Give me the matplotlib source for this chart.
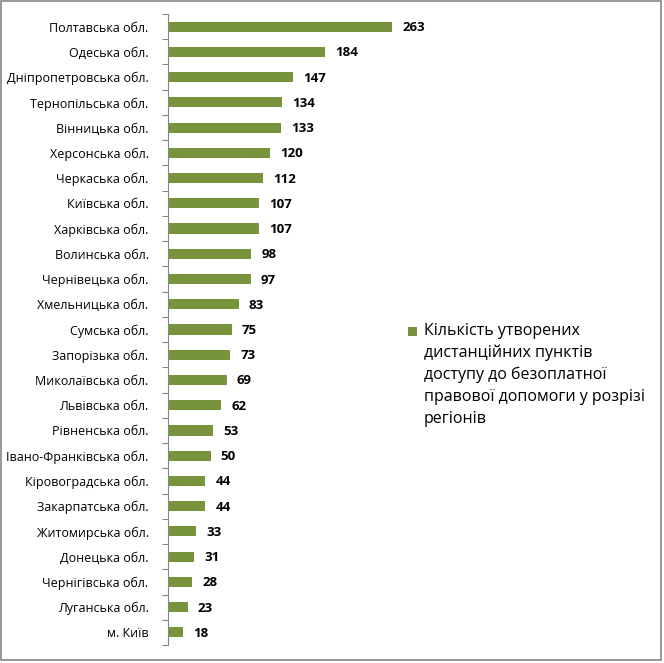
import matplotlib
matplotlib.use("Agg")
import matplotlib.pyplot as plt
from matplotlib.patches import Rectangle

plt.rcParams['font.family'] = ['Open Sans', 'DejaVu Sans']

regions = ["Полтавська обл.", "Одеська обл.", "Дніпропетровська обл.", "Тернопільська обл.",
           "Вінницька обл.", "Херсонська обл.", "Черкаська обл.", "Київська обл.",
           "Харківська обл.", "Волинська обл.", "Чернівецька обл.", "Хмельницька обл.",
           "Сумська обл.", "Запорізька обл.", "Миколаївська обл.", "Львівська обл.",
           "Рівненська обл.", "Івано-Франківська обл.", "Кіровоградська обл.", "Закарпатська обл.",
           "Житомирська обл.", "Донецька обл.", "Чернігівська обл.", "Луганська обл.", "м. Київ"]
values = [263, 184, 147, 134, 133, 120, 112, 107, 107, 98, 97, 83, 75, 73, 69, 62, 53, 50,
          44, 44, 33, 31, 28, 23, 18]
legend_label = ["Кількість утворених", "дистанційних пунктів", "доступу до безоплатної",
                "правової допомоги у розрізі", "регіонів"]

color = "#77933C"
W, H = 664, 663
fig = plt.figure(figsize=(W / 100, H / 100), dpi=100)

left, top, bottom = 168, 14, 645
right = 168 + 300 * 224 / 263
ax = fig.add_axes([left / W, 1 - bottom / H, (right - left) / W, (bottom - top) / H])

n = len(values)
ypos = list(range(n))
ax.barh(ypos, values, height=0.4, color=color)
ax.set_ylim(n - 0.5, -0.5)
ax.set_xlim(0, 300)
for y, v in zip(ypos, values):
    ax.text(v + 12, y + 0.04, str(v), va='center', ha='left', fontsize=9.5, fontweight='bold',
            color='black')

ax.set_yticks(ypos)
ax.set_yticklabels(regions, fontsize=9)
ax.tick_params(axis='y', which='major', length=0, pad=14)
ax.set_yticks([i - 0.5 for i in range(n + 1)], minor=True)
ax.tick_params(axis='y', which='minor', length=4, color='#868686', width=0.8)
ax.set_xticks([])
for s in ['top', 'right', 'bottom']:
    ax.spines[s].set_visible(False)
ax.spines['left'].set_color('#868686')
ax.spines['left'].set_linewidth(0.8)

# legend
fig.patches.append(Rectangle((408 / W, 1 - 336 / H), 9 / W, 9 / H, transform=fig.transFigure,
                             facecolor=color, edgecolor='none'))
for i, line in enumerate(legend_label):
    fig.text(424 / W, 1 - (331 + 22 * i) / H, line, fontsize=11.5, va='center', ha='left')

# border
fig.patches.append(Rectangle((0.5 / W, 3 / H), (W - 4) / W, (H - 4) / H, transform=fig.transFigure,
                             facecolor='none', edgecolor='#868686', linewidth=1.2))

fig.savefig("out.png", dpi=100)
